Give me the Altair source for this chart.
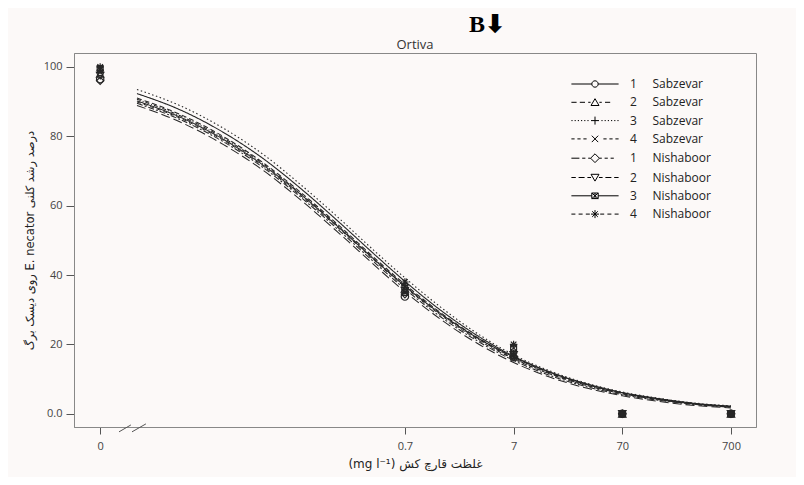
import altair as alt
import pandas as pd

# ---------------- data ----------------
series = ["1 Sabzevar", "2 Sabzevar", "3 Sabzevar", "4 Sabzevar",
          "1 Nishaboor", "2 Nishaboor", "3 Nishaboor", "4 Nishaboor"]

ZERO_AT = 0.0011  # position of dose "0" left of the axis break
obs_doses = [ZERO_AT, 0.7, 7, 70, 700]
obs_1S = [96.5, 33.8, 16.3, 0, 0]
obs_2S = [98.0, 36.0, 17.0, 0, 0]
obs_3S = [99.0, 37.0, 17.5, 0, 0]
obs_4S = [98.5, 36.5, 17.0, 0, 0]
obs_1N = [96.0, 34.5, 16.5, 0, 0]
obs_2N = [97.5, 35.5, 17.0, 0, 0]
obs_3N = [99.5, 35.0, 19.0, 0, 0]
obs_4N = [100.0, 38.0, 20.0, 0, 0]

curve_doses = [0.0024, 0.006, 0.015, 0.035, 0.08, 0.18, 0.4, 0.7, 1.5,
               3.5, 7, 15, 35, 70, 150, 350, 700]
fit_1S = [92.3, 87.6, 81.1, 73.5, 64.5, 54.8, 44.9, 38.2, 29.8, 21.9, 16.6, 12.1, 8.4, 6.1, 4.4, 2.9, 2.2]
fit_2S = [91.0, 86.3, 79.9, 72.3, 63.4, 53.8, 43.9, 37.3, 29.1, 21.4, 16.3, 11.8, 8.2, 6.0, 4.2, 2.8, 2.1]
fit_3S = [93.5, 88.8, 82.3, 74.7, 65.6, 55.9, 45.9, 39.2, 30.7, 22.5, 17.0, 12.4, 8.6, 6.3, 4.5, 3.0, 2.3]
fit_4S = [90.7, 85.9, 79.5, 72.0, 63.0, 53.4, 43.5, 36.9, 28.7, 21.1, 16.0, 11.6, 8.0, 5.8, 4.1, 2.7, 2.0]
fit_1N = [88.9, 84.1, 77.6, 70.1, 61.2, 51.6, 41.8, 35.2, 27.2, 19.7, 14.8, 10.6, 7.2, 5.2, 3.6, 2.3, 1.7]
fit_2N = [89.5, 84.8, 78.4, 70.9, 62.0, 52.4, 42.6, 36.0, 27.9, 20.4, 15.4, 11.1, 7.6, 5.5, 3.9, 2.6, 1.9]
fit_3N = [90.2, 85.5, 79.1, 71.6, 62.8, 53.2, 43.4, 36.8, 28.8, 21.3, 16.4, 12.0, 8.3, 6.1, 4.3, 2.8, 2.1]
fit_4N = [89.9, 85.2, 78.8, 71.3, 62.4, 52.9, 43.1, 36.5, 28.4, 20.8, 15.8, 11.5, 7.9, 5.8, 4.1, 2.7, 2.0]

x_tick_values = [ZERO_AT, 0.7, 7, 70, 700]
y_tick_values = [0, 20, 40, 60, 80, 100]

# axis-break marks "//" (dose, value) segment ends
break_x = [0.00164, 0.00216]
break_x2 = [0.00211, 0.0029]
break_y = [-5.2, -5.2]
break_y2 = [-3.2, -2.9]

panel_title = "Ortiva"
panel_tag = "B\u2b07"
y_title = "\u202bدرصد رشد کلنی E. necator روی دیسک برگ\u202c"
x_title = "\u202bغلظت قارچ کش (mg l\u207b\u00b9)\u202c"

# ---------------- tables ----------------
obs_sets = [obs_1S, obs_2S, obs_3S, obs_4S, obs_1N, obs_2N, obs_3N, obs_4N]
fit_sets = [fit_1S, fit_2S, fit_3S, fit_4S, fit_1N, fit_2N, fit_3N, fit_4N]

obs_df = pd.DataFrame([
    {"series": s, "dose": d, "value": v}
    for s, vals in zip(series, obs_sets) for d, v in zip(obs_doses, vals)
])
fit_df = pd.DataFrame([
    {"series": s, "dose": d, "value": v}
    for s, vals in zip(series, fit_sets) for d, v in zip(curve_doses, vals)
])
break_df = pd.DataFrame({"dose": break_x, "dose2": break_x2,
                         "value": break_y, "value2": break_y2})

# ---------------- styles ----------------
dashes = [[1, 0], [5, 3], [1.5, 2.5], [4, 2, 1, 2], [9, 4], [6, 2, 2, 2], [1, 0], [4, 3]]
widths = [1.1, 1.0, 1.0, 1.0, 1.0, 1.0, 1.5, 1.0]
ink = "#262626"

pt_shapes = [
    "circle",
    "triangle-up",
    "M-1,0H1M0,-1V1",
    "M-0.8,-0.8L0.8,0.8M-0.8,0.8L0.8,-0.8",
    "diamond",
    "triangle-down",
    "M-0.8,-0.8H0.8V0.8H-0.8ZM-0.8,-0.8L0.8,0.8M-0.8,0.8L0.8,-0.8",
    "M-1,0H1M0,-1V1M-0.75,-0.75L0.75,0.75M-0.75,0.75L0.75,-0.75",
]

leg_shapes = [
    # 1 Sabzevar: solid, circle
    "M-5.9,0H-0.8M0.8,0H5.9M0.8,0A0.8,0.8,0,1,1,-0.8,0A0.8,0.8,0,1,1,0.8,0",
    # 2 Sabzevar: dashed, triangle
    "M-5.9,0H-4.6M-3.8,0H-2.5M-1.7,0H-1.1M0,-0.9L1,0.8H-1ZM1.1,0H1.7M2.5,0H3.8",
    # 3 Sabzevar: dotted, plus
    "M-5.9,0H-5.6M-5.1,0H-4.8M-4.3,0H-4.0M-3.5,0H-3.2M-2.7,0H-2.4M-1.9,0H-1.6"
    "M-1,0H1M0,-1V1M1.6,0H1.9M2.4,0H2.7M3.2,0H3.5M4.0,0H4.3M4.8,0H5.1M5.6,0H5.9",
    # 4 Sabzevar: dash, x
    "M-5.9,0H-5.1M-4.4,0H-3.6M-2.9,0H-2.1M-0.8,-0.8L0.8,0.8M-0.8,0.8L0.8,-0.8"
    "M2.1,0H2.9M3.6,0H4.4M5.1,0H5.9",
    # 1 Nishaboor: long dash, diamond
    "M-5.9,0H-3.9M-3.2,0H-2.4M-1.7,0H-1.1M0,-1.1L1.1,0L0,1.1L-1.1,0ZM1.1,0H1.7M2.4,0H3.2M3.9,0H4.7",
    # 2 Nishaboor: dash-dot, triangle down
    "M-5.9,0H-4.8M-4.1,0H-2.6M-1.9,0H-1.0M0,0.9L1,-0.8H-1ZM1.0,0H1.9M2.6,0H4.1M4.8,0H5.9",
    # 3 Nishaboor: solid, square with cross
    "M-5.9,0H-0.8M0.8,0H5.9M-0.8,-0.7H0.8V0.7H-0.8ZM-0.8,-0.7L0.8,0.7M-0.8,0.7L0.8,-0.7M0,-0.7V0.7",
    # 4 Nishaboor: dashed, asterisk
    "M-5.9,0H-4.9M-4.1,0H-3.1M-2.3,0H-1.3M-1,0H1M0,-1V1M-0.7,-0.7L0.7,0.7M-0.7,0.7L0.7,-0.7"
    "M1.3,0H2.3M3.1,0H4.1M4.9,0H5.9",
]

lat_font = "Open Sans"
fa_font = "DejaVu Sans"

x_scale = alt.Scale(type="log", domain=[0.000632, 1189], nice=False)
y_scale = alt.Scale(domain=[-3.8, 104], nice=False, zero=False)

x_axis = alt.Axis(values=x_tick_values, format="~g",
                  labelExpr="datum.value < 0.01 ? '0' : datum.label",
                  grid=False, tickSize=7, labelPadding=6, labelFontSize=11,
                  labelFont=lat_font, labelColor="#444", tickColor="#555",
                  domainColor="#888", title=x_title, titleFont=fa_font,
                  titleFontSize=12, titleFontWeight="normal", titleColor="#222",
                  titlePadding=7, labelFlush=False)
y_axis = alt.Axis(values=y_tick_values,
                  labelExpr="datum.value == 0 ? '0.0' : datum.label",
                  grid=False, tickSize=8, labelPadding=4, labelFontSize=11,
                  labelFont=lat_font, labelColor="#444", tickColor="#555",
                  domainColor="#888", title=y_title, titleFont=fa_font,
                  titleFontSize=11.5, titleFontWeight="normal", titleColor="#222",
                  titlePadding=8)

lines = alt.Chart(fit_df).mark_line(interpolate="monotone", color=ink).encode(
    x=alt.X("dose:Q", scale=x_scale, axis=x_axis),
    y=alt.Y("value:Q", scale=y_scale, axis=y_axis),
    detail="series:N",
    strokeDash=alt.StrokeDash("series:N", scale=alt.Scale(domain=series, range=dashes), legend=None),
    strokeWidth=alt.StrokeWidth("series:N", scale=alt.Scale(domain=series, range=widths), legend=None),
)

points = alt.Chart(obs_df).mark_point(filled=False, color=ink, size=55, strokeWidth=1.2, opacity=1).encode(
    x=alt.X("dose:Q", scale=x_scale),
    y=alt.Y("value:Q", scale=y_scale),
    shape=alt.Shape("series:N", scale=alt.Scale(domain=series, range=pt_shapes), legend=None),
)

legend_layer = alt.Chart(obs_df).transform_filter("false").mark_point(
    filled=False, color="black", opacity=1).encode(
    x=alt.X("dose:Q", scale=x_scale),
    y=alt.Y("value:Q", scale=y_scale),
    shape=alt.Shape(
        "series:N",
        scale=alt.Scale(domain=series, range=leg_shapes),
        legend=alt.Legend(
            title=None, orient="none", legendX=495, legendY=25, padding=0,
            symbolSize=64, symbolOffset=20, labelOffset=29,
            symbolStrokeColor="black", symbolFillColor="transparent",
            symbolStrokeWidth=1, symbolOpacity=1,
            labelFont=lat_font, labelFontSize=12, labelColor="#222",
            rowPadding=6.3,
            labelExpr="replace(datum.label, ' ', '\u00a0\u00a0\u00a0\u00a0\u00a0')",
        ),
    ),
)

breaks = alt.Chart(break_df).mark_rule(color="#555", strokeWidth=1).encode(
    x=alt.X("dose:Q", scale=x_scale), x2="dose2:Q",
    y=alt.Y("value:Q", scale=y_scale), y2="value2:Q",
)

# panel name, centred just above the plot frame
panel_name = alt.Chart(pd.DataFrame({"t": [panel_title]})).mark_text(
    font=lat_font, fontSize=13, color="#333", align="center", baseline="bottom").encode(
    text="t:N", x=alt.value(341), y=alt.value(-1))

chart = alt.layer(lines, points, legend_layer, breaks, panel_name).resolve_scale(
    shape="independent"
).properties(
    width=682, height=374,
    title=alt.TitleParams(panel_tag, font="Liberation Serif", fontSize=24, fontWeight="bold",
                          color="black", offset=2, anchor="middle", dx=72),
    autosize=alt.AutoSizeParams(type="none"),
    padding={"left": 66, "top": 45, "right": 40, "bottom": 50},
    background="#fcf9f8",
).configure_view(stroke="#888", strokeWidth=1)

chart.save("out.html", embed_options={"renderer": "svg", "actions": False})
